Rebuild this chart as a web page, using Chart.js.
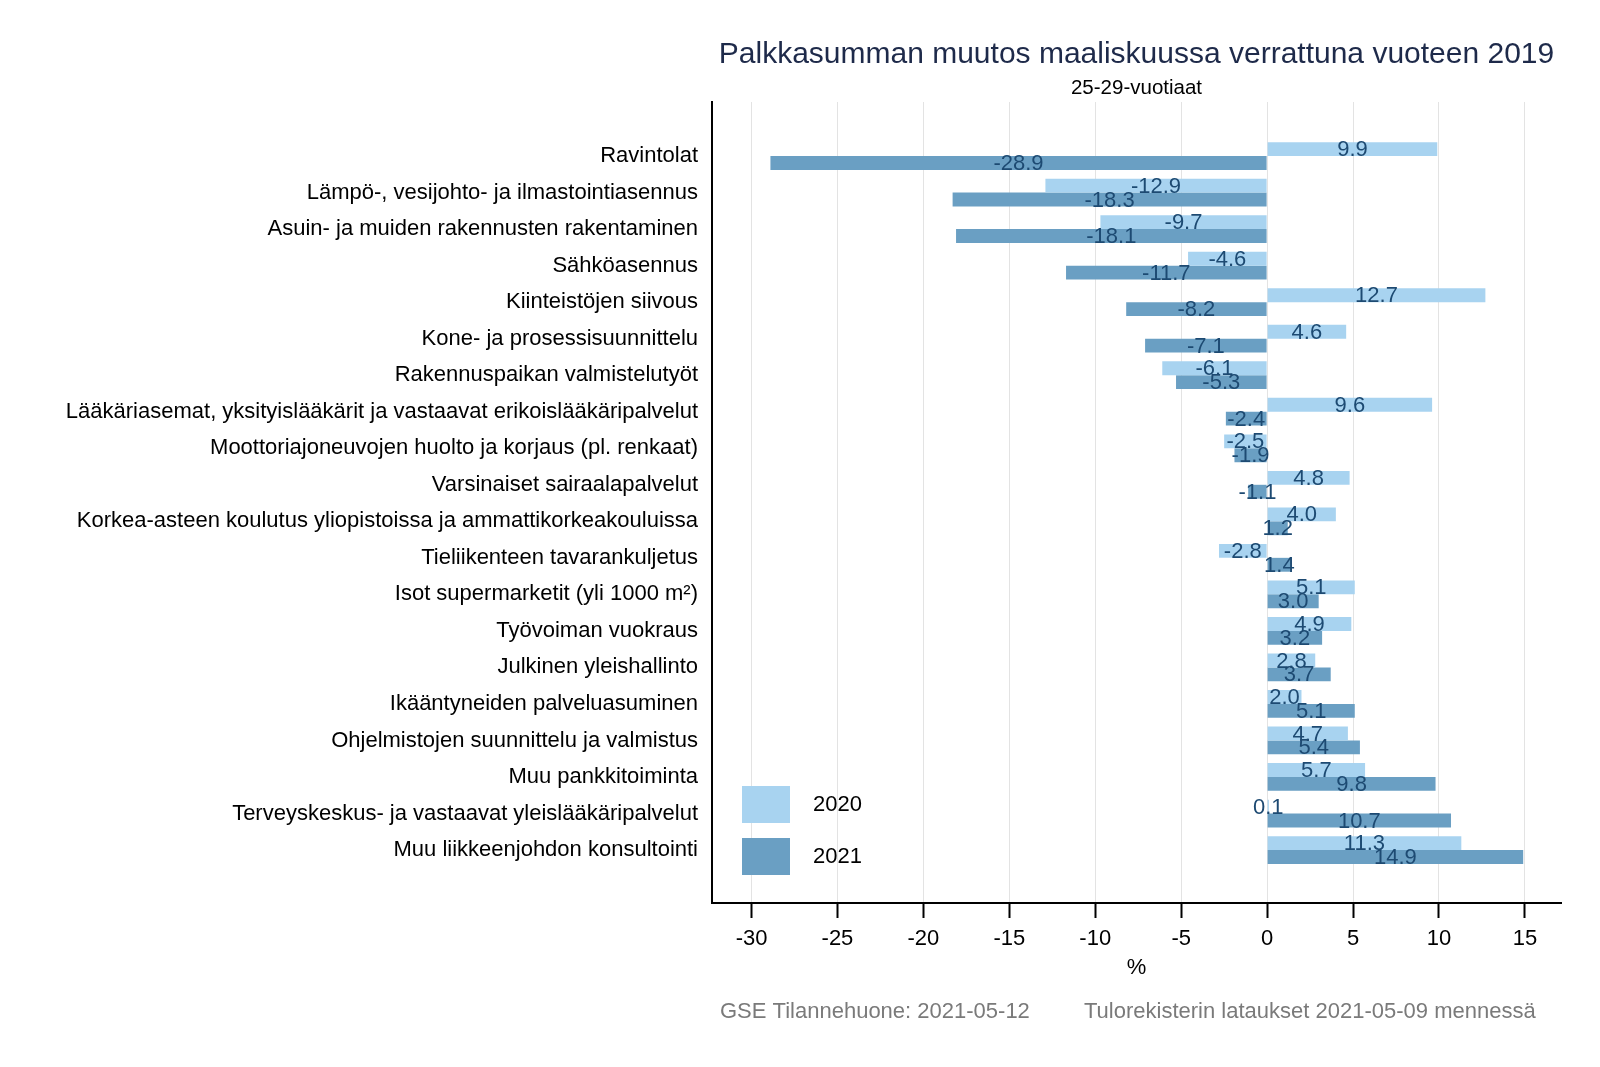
<!DOCTYPE html>
<html>
<head>
<meta charset="utf-8">
<script src="https://cdn.jsdelivr.net/npm/chart.js@4"></script>
<style>
html,body{margin:0;padding:0;background:#fff;}
#wrap{width:1600px;height:1067px;position:relative;}
</style>
</head>
<body>
<div id="wrap"><canvas id="c" width="1600" height="1067"></canvas></div>
<script>
const categories = [
  "Ravintolat",
  "Lämpö-, vesijohto- ja ilmastointiasennus",
  "Asuin- ja muiden rakennusten rakentaminen",
  "Sähköasennus",
  "Kiinteistöjen siivous",
  "Kone- ja prosessisuunnittelu",
  "Rakennuspaikan valmistelutyöt",
  "Lääkäriasemat, yksityislääkärit ja vastaavat erikoislääkäripalvelut",
  "Moottoriajoneuvojen huolto ja korjaus (pl. renkaat)",
  "Varsinaiset sairaalapalvelut",
  "Korkea-asteen koulutus yliopistoissa ja ammattikorkeakouluissa",
  "Tieliikenteen tavarankuljetus",
  "Isot supermarketit (yli 1000 m²)",
  "Työvoiman vuokraus",
  "Julkinen yleishallinto",
  "Ikääntyneiden palveluasuminen",
  "Ohjelmistojen suunnittelu ja valmistus",
  "Muu pankkitoiminta",
  "Terveyskeskus- ja vastaavat yleislääkäripalvelut",
  "Muu liikkeenjohdon konsultointi"
];
const values2020 = [9.9, -12.9, -9.7, -4.6, 12.7, 4.6, -6.1, 9.6, -2.5, 4.8, 4.0, -2.8, 5.1, 4.9, 2.8, 2.0, 4.7, 5.7, 0.1, 11.3];
const values2021 = [-28.9, -18.3, -18.1, -11.7, -8.2, -7.1, -5.3, -2.4, -1.9, -1.1, 1.2, 1.4, 3.0, 3.2, 3.7, 5.1, 5.4, 9.8, 10.7, 14.9];
const seriesLabels = ["2020", "2021"];
const xTicks = [-30, -25, -20, -15, -10, -5, 0, 5, 10, 15];
const titleText = "Palkkasumman muutos maaliskuussa verrattuna vuoteen 2019";
const subtitleText = "25-29-vuotiaat";
const axisTitle = "%";
const footerLeft = "GSE Tilannehuone: 2021-05-12";
const footerRight = "Tulorekisterin lataukset 2021-05-09 mennessä";

const FONT = "'Liberation Sans', Arial, sans-serif";
const colors = ["#a8d3f0", "#6a9fc3"];

const toPoints = arr => arr.map((v, i) => ({x: v, y: i}));

const textPlugin = {
  id: 'texts',
  afterDraw(chart) {
    const ctx = chart.ctx;
    const ca = chart.chartArea;
    const cx = (ca.left + ca.right) / 2;
    ctx.save();
    ctx.textAlign = 'center';
    ctx.textBaseline = 'middle';
    ctx.fillStyle = '#1e2a4a';
    ctx.font = `30px ${FONT}`;
    ctx.fillText(titleText, cx, 55);
    ctx.fillStyle = '#000';
    ctx.font = `20.5px ${FONT}`;
    ctx.fillText(subtitleText, cx, 88);
    ctx.fillStyle = '#000';
    ctx.font = `22px ${FONT}`;
    ctx.fillText(axisTitle, cx, 968);
    ctx.fillStyle = '#7a7a7a';
    ctx.textAlign = 'left';
    ctx.fillText(footerLeft, 720, 1012);
    ctx.fillText(footerRight, 1084, 1012);

    // legend
    const ds = chart.data.datasets;
    ctx.font = `22px ${FONT}`;
    ds.forEach((d, i) => {
      const top = 786 + i * 52;
      ctx.fillStyle = d.backgroundColor;
      ctx.fillRect(742, top, 48, 37);
      ctx.fillStyle = '#000';
      ctx.textAlign = 'left';
      ctx.fillText(d.label, 813, top + 19);
    });
    ctx.restore();
  },
  afterDatasetsDraw(chart) {
    const ctx = chart.ctx;
    ctx.save();
    ctx.font = `22px ${FONT}`;
    ctx.fillStyle = '#1d4a72';
    ctx.textAlign = 'center';
    ctx.textBaseline = 'middle';
    chart.data.datasets.forEach((d, di) => {
      const meta = chart.getDatasetMeta(di);
      meta.data.forEach((bar, j) => {
        const v = d.data[j].x;
        const xc = (bar.x + bar.base) / 2;
        ctx.fillText(v.toFixed(1), xc, bar.y + 1);
      });
    });
    ctx.restore();
  }
};

new Chart(document.getElementById('c'), {
  type: 'bar',
  data: {
    datasets: [
      {label: seriesLabels[0], data: toPoints(values2020), backgroundColor: colors[0], borderWidth: 0},
      {label: seriesLabels[1], data: toPoints(values2021), backgroundColor: colors[1], borderWidth: 0}
    ]
  },
  options: {
    indexAxis: 'y',
    responsive: false,
    animation: false,
    devicePixelRatio: 1,
    categoryPercentage: 0.76,
    barPercentage: 1.0,
    layout: {padding: {top: 102, right: 39, bottom: 0, left: 0}},
    plugins: {
      legend: {display: false},
      tooltip: {enabled: false},
      title: {display: false}
    },
    scales: {
      x: {
        type: 'linear',
        position: 'bottom',
        min: -32.3,
        max: 17.1,
        afterBuildTicks: s => { s.ticks = xTicks.map(v => ({value: v})); },
        afterFit: s => { s.height = 164; },
        grid: {color: '#e3e3e3', lineWidth: 1, drawTicks: true, tickLength: 15, tickColor: '#000', tickWidth: 2},
        border: {display: true, color: '#000', width: 2},
        ticks: {color: '#000', font: {family: FONT, size: 22}, padding: 8, maxRotation: 0}
      },
      y: {
        type: 'linear',
        reverse: true,
        offset: false,
        min: -1.48,
        max: 20.45,
        afterBuildTicks: s => { s.ticks = categories.map((c, i) => ({value: i})); },
        afterFit: s => { s.width = 712; },
        grid: {display: false, drawTicks: false, offset: false},
        border: {display: true, color: '#000', width: 2},
        ticks: {
          color: '#000',
          font: {family: FONT, size: 22},
          padding: 14,
          autoSkip: false,
          callback: v => categories[v] !== undefined ? categories[v] : ''
        }
      }
    }
  },
  plugins: [textPlugin]
});
</script>
</body>
</html>
